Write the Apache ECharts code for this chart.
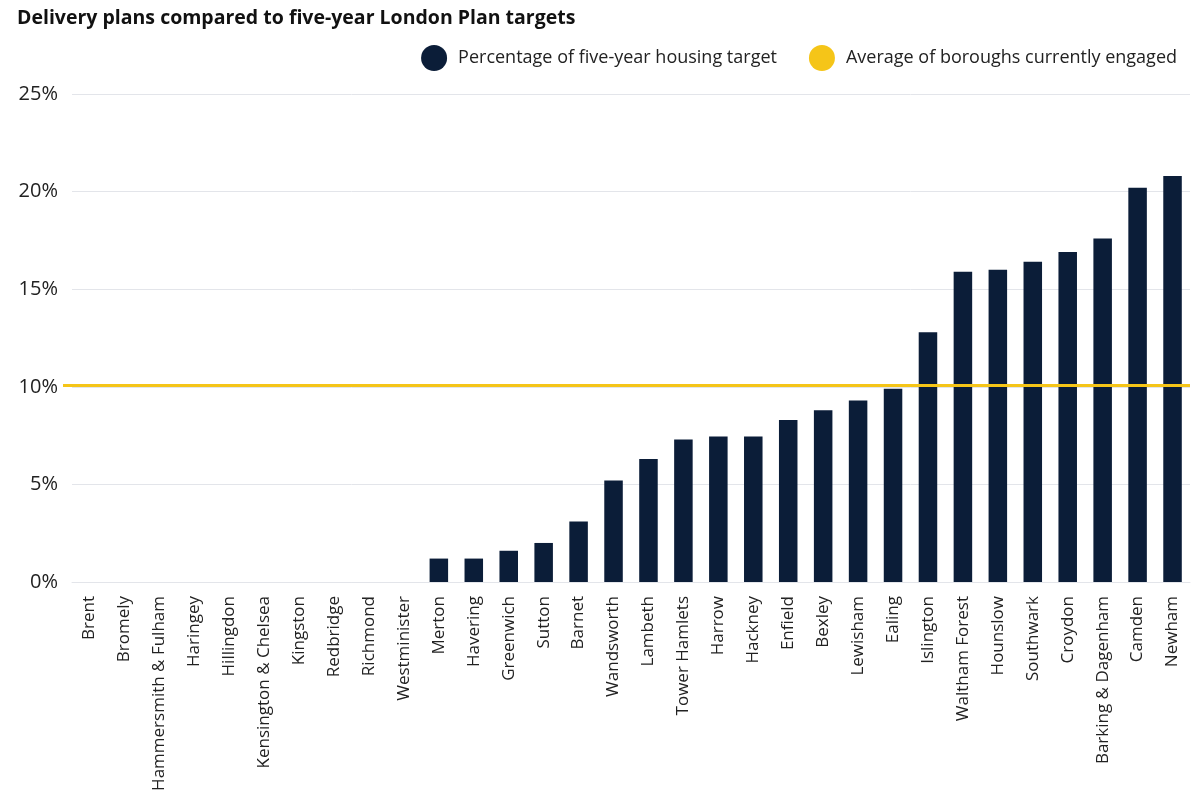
<!DOCTYPE html>
<html>
<head>
<meta charset="utf-8">
<script src="https://cdn.jsdelivr.net/npm/echarts@6/dist/echarts.min.js"></script>
<style>html,body{margin:0;padding:0;background:#fff}#content{width:1200px;height:803px}</style>
</head>
<body>
<div id="content"></div>
<script>
var boroughs = ['Brent', 'Bromely', 'Hammersmith & Fulham', 'Haringey', 'Hillingdon', 'Kensington & Chelsea',
    'Kingston', 'Redbridge', 'Richmond', 'Westminister', 'Merton', 'Havering', 'Greenwich', 'Sutton', 'Barnet',
    'Wandsworth', 'Lambeth', 'Tower Hamlets', 'Harrow', 'Hackney', 'Enfield', 'Bexley', 'Lewisham', 'Ealing',
    'Islington', 'Waltham Forest', 'Hounslow', 'Southwark', 'Croydon', 'Barking & Dagenham', 'Camden', 'Newham'];
var pctOfTarget = [0, 0, 0, 0, 0, 0, 0, 0, 0, 0, 1.2, 1.2, 1.6, 2.0, 3.1, 5.2, 6.3, 7.3, 7.45, 7.45, 8.3, 8.8,
    9.3, 9.9, 12.8, 15.9, 16.0, 16.4, 16.9, 17.6, 20.2, 20.8];
var engagedAverage = 10.1;

var myChart = echarts.init(document.getElementById('content'));
var font = 'Open Sans';
var option = {
    animation: false,
    textStyle: {fontFamily: font},
    title: {
        text: 'Delivery plans compared to five-year London Plan targets',
        left: 12, top: 3,
        textStyle: {fontSize: 19.5, fontWeight: 'bold', color: '#111', fontFamily: font}
    },
    legend: {
        right: 18, top: 40, itemGap: 32, itemWidth: 26, itemHeight: 26,
        textStyle: {fontSize: 18, color: '#222', padding: [0, 0, 0, 6]},
        data: [
            {name: 'Percentage of five-year housing target', icon: 'circle', itemStyle: {color: '#0b1d38'}},
            {name: 'Average of boroughs currently engaged', icon: 'circle', itemStyle: {color: '#f5c518'}}
        ]
    },
    grid: {left: 72, right: 10, top: 94, bottom: 221},
    xAxis: {
        type: 'category',
        data: boroughs,
        axisLine: {lineStyle: {color: '#e3e5ea'}},
        axisTick: {show: false},
        axisLabel: {rotate: 90, fontSize: 17, color: '#222', interval: 0, margin: 14}
    },
    yAxis: {
        type: 'value', min: 0, max: 25, interval: 5,
        axisLabel: {formatter: '{value}%', fontSize: 20, color: '#222', margin: 14},
        splitLine: {lineStyle: {color: '#e3e5ea'}},
        axisLine: {show: false}, axisTick: {show: false}
    },
    series: [
        {
            name: 'Percentage of five-year housing target',
            type: 'bar',
            barWidth: '53%',
            itemStyle: {color: '#0b1d38'},
            data: pctOfTarget,
            markLine: {
                silent: true, symbol: 'none', label: {show: false},
                lineStyle: {color: '#f5c518', width: 3, type: 'solid'},
                data: [[{coord: [0, engagedAverage], x: 63}, {coord: [boroughs.length - 1, engagedAverage], x: 1190}]]
            }
        },
        {
            name: 'Average of boroughs currently engaged',
            type: 'line',
            data: [],
            itemStyle: {color: '#f5c518'}
        }
    ]
};
myChart.setOption(option);
</script>
</body>
</html>
